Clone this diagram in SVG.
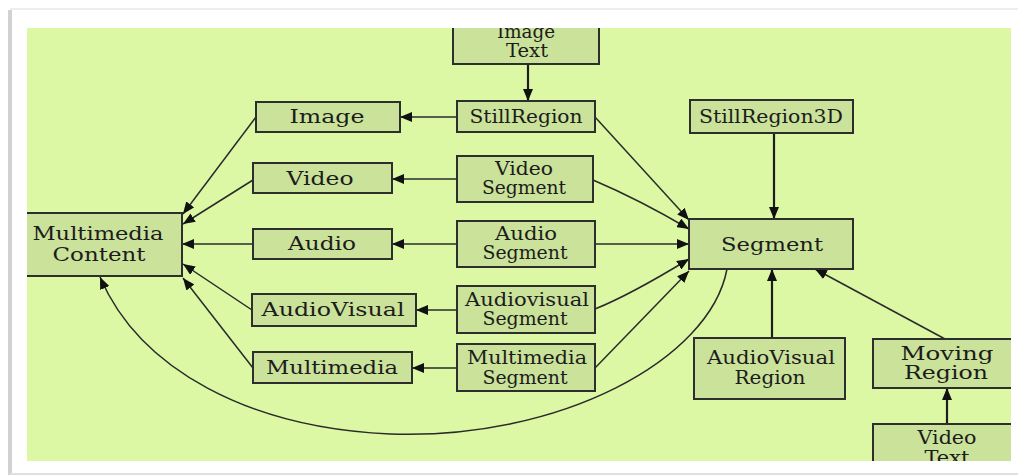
<svg xmlns="http://www.w3.org/2000/svg" width="1018" height="476" viewBox="0 0 1018 476">
<style>
.bx{fill:#cae299;stroke:#2e2e2e;stroke-width:2}
.t{font-family:"DejaVu Serif","Liberation Serif",serif;font-size:18px;fill:#1c1c1c;text-anchor:middle}
.c{fill:none;stroke:#2a2a2a;stroke-width:1.5}
.ct{fill:none;stroke:#1e1e1e;stroke-width:2.2}
</style>
<defs>
<marker id="ah" viewBox="0 0 12 10" refX="12" refY="5" markerWidth="12" markerHeight="10" markerUnits="userSpaceOnUse" orient="auto">
<path d="M0,0 L12,5 L0,10 z" fill="#111"/>
</marker>
<clipPath id="clip"><rect x="27" y="28" width="984" height="433"/></clipPath>
</defs>
<rect x="0" y="0" width="1018" height="476" fill="#ffffff"/>
<line x1="10" y1="10" x2="10" y2="475" stroke="#d2d2d2" stroke-width="4"/>
<line x1="10" y1="9" x2="1018" y2="9" stroke="#eeeeee" stroke-width="2"/>
<line x1="10" y1="474" x2="1018" y2="474" stroke="#e0e0e0" stroke-width="2"/>
<rect x="27" y="28" width="984" height="433" fill="#dcf8a5"/>
<g clip-path="url(#clip)">
<g id="connectors">
<path class="ct" d="M528,64 L528,101" marker-end="url(#ah)"/>
<path class="c" d="M457,117 L400,117" marker-end="url(#ah)"/>
<path class="c" d="M457,179 L392,179" marker-end="url(#ah)"/>
<path class="c" d="M457,244 L392,244" marker-end="url(#ah)"/>
<path class="c" d="M457,310 L416,310" marker-end="url(#ah)"/>
<path class="c" d="M457,368 L412,368" marker-end="url(#ah)"/>
<path class="c" d="M256,117 L183,214" marker-end="url(#ah)"/>
<path class="c" d="M253,180 L183,224" marker-end="url(#ah)"/>
<path class="c" d="M253,244 L182,244" marker-end="url(#ah)"/>
<path class="c" d="M252,310 L183,264" marker-end="url(#ah)"/>
<path class="c" d="M253,368 L183,278" marker-end="url(#ah)"/>
<path class="c" d="M727,269 C710,360 560,440 390,434 C250,428 140,370 100,277" marker-end="url(#ah)"/>
<path class="c" d="M595,117 L689,220" marker-end="url(#ah)"/>
<path class="c" d="M593,180 Q640,200 689,229" marker-end="url(#ah)"/>
<path class="c" d="M595,244 L689,244" marker-end="url(#ah)"/>
<path class="c" d="M595,309 Q630,295 689,259" marker-end="url(#ah)"/>
<path class="c" d="M595,368 L689,271" marker-end="url(#ah)"/>
<path class="ct" d="M774,133 L774,219" marker-end="url(#ah)"/>
<path class="ct" d="M772,338 L772,269" marker-end="url(#ah)"/>
<path class="c" d="M945,339 L815,269" marker-end="url(#ah)"/>
<path class="ct" d="M947,424 L947,388" marker-end="url(#ah)"/>
</g>
<g id="n-imagetext"><rect class="bx" x="453" y="10" width="146" height="54"/><text class="t" x="526" y="38" textLength="58" lengthAdjust="spacingAndGlyphs">Image</text><text class="t" x="527" y="57" textLength="42" lengthAdjust="spacingAndGlyphs">Text</text></g>
<g id="n-stillregion"><rect class="bx" x="457" y="101" width="138" height="31"/><text class="t" x="526" y="123" textLength="113" lengthAdjust="spacingAndGlyphs">StillRegion</text></g>
<g id="n-image"><rect class="bx" x="256" y="102" width="144" height="30"/><text class="t" x="327" y="123" textLength="75" lengthAdjust="spacingAndGlyphs">Image</text></g>
<g id="n-video"><rect class="bx" x="253" y="163" width="139" height="30"/><text class="t" x="320" y="185" textLength="67" lengthAdjust="spacingAndGlyphs">Video</text></g>
<g id="n-audio"><rect class="bx" x="253" y="229" width="139" height="30"/><text class="t" x="322" y="250" textLength="68" lengthAdjust="spacingAndGlyphs">Audio</text></g>
<g id="n-audiovisual"><rect class="bx" x="252" y="294" width="164" height="32"/><text class="t" x="333" y="316" textLength="143" lengthAdjust="spacingAndGlyphs">AudioVisual</text></g>
<g id="n-multimedia"><rect class="bx" x="253" y="352" width="159" height="31"/><text class="t" x="332" y="374" textLength="132" lengthAdjust="spacingAndGlyphs">Multimedia</text></g>
<g id="n-multimediacontent"><rect class="bx" x="25" y="213" width="157" height="63"/><text class="t" x="98" y="240" textLength="131" lengthAdjust="spacingAndGlyphs">Multimedia</text><text class="t" x="99" y="261" textLength="93" lengthAdjust="spacingAndGlyphs">Content</text></g>
<g id="n-videosegment"><rect class="bx" x="457" y="156" width="136" height="46"/><text class="t" x="524" y="175" textLength="58" lengthAdjust="spacingAndGlyphs">Video</text><text class="t" x="524" y="194" textLength="84" lengthAdjust="spacingAndGlyphs">Segment</text></g>
<g id="n-audiosegment"><rect class="bx" x="457" y="221" width="138" height="46"/><text class="t" x="526" y="240" textLength="62" lengthAdjust="spacingAndGlyphs">Audio</text><text class="t" x="525" y="259" textLength="85" lengthAdjust="spacingAndGlyphs">Segment</text></g>
<g id="n-audiovisualsegment"><rect class="bx" x="457" y="286" width="138" height="47"/><text class="t" x="527" y="306" textLength="124" lengthAdjust="spacingAndGlyphs">Audiovisual</text><text class="t" x="525" y="325" textLength="85" lengthAdjust="spacingAndGlyphs">Segment</text></g>
<g id="n-multimediasegment"><rect class="bx" x="457" y="344" width="138" height="47"/><text class="t" x="527" y="364" textLength="120" lengthAdjust="spacingAndGlyphs">Multimedia</text><text class="t" x="525" y="384" textLength="85" lengthAdjust="spacingAndGlyphs">Segment</text></g>
<g id="n-stillregion3d"><rect class="bx" x="690" y="100" width="163" height="33"/><text class="t" x="771" y="123" textLength="144" lengthAdjust="spacingAndGlyphs">StillRegion3D</text></g>
<g id="n-segment"><rect class="bx" x="689" y="219" width="164" height="50"/><text class="t" x="772" y="251" textLength="102" lengthAdjust="spacingAndGlyphs">Segment</text></g>
<g id="n-audiovisualregion"><rect class="bx" x="694" y="338" width="151" height="61"/><text class="t" x="771" y="364" textLength="128" lengthAdjust="spacingAndGlyphs">AudioVisual</text><text class="t" x="770" y="384" textLength="71" lengthAdjust="spacingAndGlyphs">Region</text></g>
<g id="n-movingregion"><rect class="bx" x="873" y="339" width="150" height="49"/><text class="t" x="947" y="360" textLength="93" lengthAdjust="spacingAndGlyphs">Moving</text><text class="t" x="946" y="379" textLength="84" lengthAdjust="spacingAndGlyphs">Region</text></g>
<g id="n-videotext"><rect class="bx" x="873" y="424" width="150" height="60"/><text class="t" x="947" y="444" textLength="59" lengthAdjust="spacingAndGlyphs">Video</text><text class="t" x="947" y="464" textLength="45" lengthAdjust="spacingAndGlyphs">Text</text></g>
</g>
</svg>
